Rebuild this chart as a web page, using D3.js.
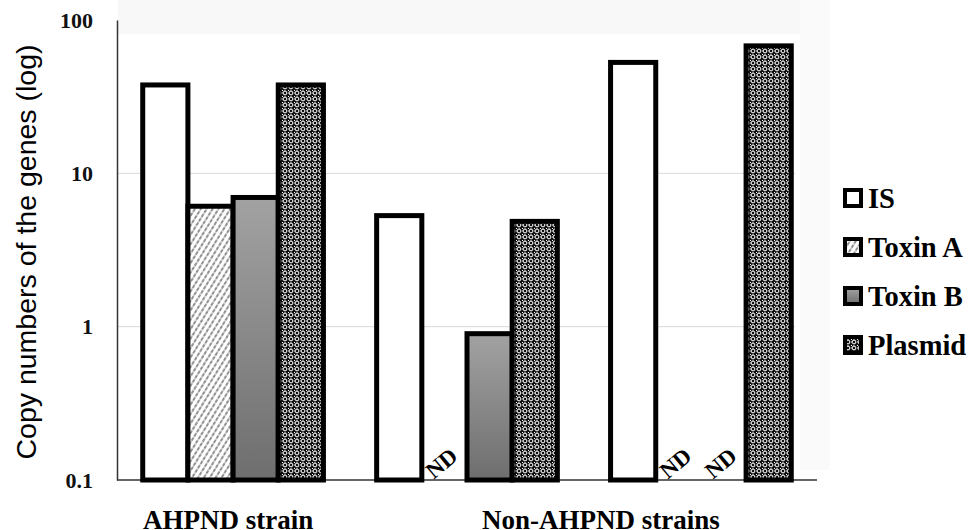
<!DOCTYPE html>
<html>
<head>
<meta charset="utf-8">
<script src="https://cdn.jsdelivr.net/npm/d3@7"></script>
<style>
  html, body { margin: 0; padding: 0; background: #fff; }
  svg { display: block; }
</style>
</head>
<body>
<svg id="chart" width="973" height="530"></svg>
<script>
// ---- data ----
const groups = ["AHPND", "NonAHPND-1", "NonAHPND-2"];
const seriesNames = ["IS", "Toxin A", "Toxin B", "Plasmid"];
const isValues      = [37.7, 5.3, 52.9];
const toxinAValues  = [6.1, null, null];
const toxinBValues  = [6.96, 0.90, null];
const plasmidValues = [37.7, 4.86, 67.8];
const yTicks = [0.1, 1, 10, 100];
const yTickLabels = ["0.1", "1", "10", "100"];
const xLabels = ["AHPND strain", "Non-AHPND strains"];
const yTitle = "Copy numbers of the genes (log)";
const ndLabel = "ND";

const seriesValues = [isValues, toxinAValues, toxinBValues, plasmidValues];

const svg = d3.select("#chart");
const defs = svg.append("defs");

// Toxin A: dashed diagonal hatch
const pA = defs.append("pattern").attr("id", "patA").attr("patternUnits", "userSpaceOnUse")
  .attr("width", 5).attr("height", 5).attr("patternTransform", "rotate(32)");
pA.append("rect").attr("width", 5).attr("height", 5).attr("fill", "#fff");
pA.append("line").attr("x1", 1).attr("y1", 0).attr("x2", 1).attr("y2", 5)
  .attr("stroke", "#222").attr("stroke-width", 1).attr("stroke-dasharray", "2.4,1.1");

// Toxin B: gray gradient
const gB = defs.append("linearGradient").attr("id", "gradB")
  .attr("x1", 0).attr("y1", 0).attr("x2", 0).attr("y2", 1);
gB.append("stop").attr("offset", "0%").attr("stop-color", "#a2a2a2");
gB.append("stop").attr("offset", "100%").attr("stop-color", "#6e6e6e");

// Plasmid: black with white rings
const pP = defs.append("pattern").attr("id", "patP").attr("patternUnits", "userSpaceOnUse")
  .attr("width", 6).attr("height", 6);
pP.append("rect").attr("width", 6).attr("height", 6).attr("fill", "#111");
pP.append("circle").attr("cx", 3).attr("cy", 3).attr("r", 1.9)
  .attr("fill", "none").attr("stroke", "#fff").attr("stroke-width", 1);
pP.append("rect").attr("x", 0).attr("y", 0).attr("width", 1).attr("height", 1).attr("fill", "#fff");
pP.append("rect").attr("x", 0).attr("y", 2.5).attr("width", 0.8).attr("height", 1).attr("fill", "#ddd");
pP.append("rect").attr("x", 2.5).attr("y", 0).attr("width", 1).attr("height", 0.8).attr("fill", "#ddd");

const fills = {"IS": "#fff", "Toxin A": "url(#patA)", "Toxin B": "url(#gradB)", "Plasmid": "url(#patP)"};

// faint background artefacts
svg.append("rect").attr("x", 118).attr("y", 0).attr("width", 700).attr("height", 34).attr("fill", "#f8f8f8");
svg.append("rect").attr("x", 800).attr("y", 0).attr("width", 30).attr("height", 470).attr("fill", "#fafafa");

// scales
const y = d3.scaleLog().domain([0.1, 100]).range([480, 20]);
const x0 = d3.scaleBand().domain(groups).range([117, 817]).paddingInner(0.2275).paddingOuter(0.11);
const x1 = d3.scaleBand().domain(seriesNames).range([0, x0.bandwidth()]);

// gridlines
svg.append("g").selectAll("line").data([1, 10]).join("line")
  .attr("x1", 117).attr("x2", 795)
  .attr("y1", d => y(d)).attr("y2", d => y(d))
  .attr("stroke", "#d9d9d9").attr("stroke-width", 1);

// y axis
const yAxis = d3.axisLeft(y).tickValues(yTicks).tickSize(0).tickPadding(24)
  .tickFormat((d, i) => yTickLabels[i]);
const gy = svg.append("g").attr("transform", "translate(117,0)").call(yAxis);
gy.select(".domain").attr("stroke", "#333").attr("stroke-width", 1.5);
gy.selectAll("text")
  .attr("font-family", "'Liberation Serif', 'Times New Roman', serif")
  .attr("font-weight", "bold").attr("font-size", 22).attr("fill", "#111");

// baseline
svg.append("line").attr("x1", 117).attr("x2", 817).attr("y1", y(0.1)).attr("y2", y(0.1))
  .attr("stroke", "#333").attr("stroke-width", 1.5);

// bars
const barData = [];
groups.forEach((g, gi) => {
  seriesNames.forEach((s, si) => {
    barData.push({g, s, v: seriesValues[si][gi]});
  });
});

svg.append("g").selectAll("rect").data(barData.filter(d => d.v != null)).join("rect")
  .attr("x", d => x0(d.g) + x1(d.s))
  .attr("width", x1.bandwidth())
  .attr("y", d => y(d.v))
  .attr("height", d => y(0.1) - y(d.v))
  .attr("fill", d => fills[d.s])
  .attr("stroke", "#000").attr("stroke-width", 5)
  .attr("stroke-linejoin", "miter");

// ND labels
svg.append("g").selectAll("text").data(barData.filter(d => d.v == null)).join("text")
  .attr("transform", d => `translate(${x0(d.g) + x1(d.s) + x1.bandwidth() / 2 - 3},${463}) rotate(-40)`)
  .attr("text-anchor", "middle").attr("dy", "0.35em")
  .attr("font-family", "'Liberation Serif', 'Times New Roman', serif")
  .attr("font-weight", "bold").attr("font-size", 23).attr("fill", "#000")
  .text(ndLabel);

// x labels
const xLabelPos = [
  x0(groups[0]) + x0.bandwidth() / 2 - 5,
  (x0(groups[1]) + x0(groups[2]) + x0.bandwidth()) / 2 + 17
];
svg.append("g").selectAll("text").data(xLabels).join("text")
  .attr("x", (d, i) => xLabelPos[i]).attr("y", 529)
  .attr("text-anchor", "middle")
  .attr("font-family", "'Liberation Serif', 'Times New Roman', serif")
  .attr("font-weight", "bold").attr("font-size", 27).attr("fill", "#000")
  .text(d => d);

// y title
svg.append("text")
  .attr("transform", "translate(36,252) rotate(-90)")
  .attr("text-anchor", "middle")
  .attr("font-family", "'Liberation Sans', Arial, sans-serif")
  .attr("font-size", 28.5).attr("fill", "#000")
  .text(yTitle);

// legend
const leg = svg.append("g").selectAll("g").data(seriesNames).join("g")
  .attr("transform", (d, i) => `translate(845,${198 + i * 49})`);
leg.append("rect").attr("x", 0).attr("y", -8).attr("width", 16).attr("height", 16)
  .attr("fill", d => fills[d]).attr("stroke", "#000").attr("stroke-width", 4);
leg.append("text").attr("x", 23).attr("y", 0).attr("dy", "0.35em")
  .attr("font-family", "'Liberation Serif', 'Times New Roman', serif")
  .attr("font-weight", "bold").attr("font-size", 28.5).attr("fill", "#000")
  .text(d => d);
</script>
</body>
</html>
